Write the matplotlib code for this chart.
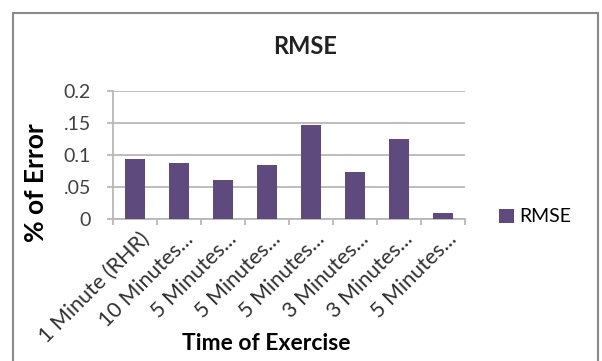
import matplotlib
matplotlib.use("Agg")
import matplotlib.pyplot as plt
import matplotlib.transforms as mtransforms
from matplotlib.patches import Rectangle

# RMSE per exercise interval
categories = ["1 Minute (RHR)", "10 Minutes...", "5 Minutes...", "5 Minutes...",
              "5 Minutes...", "3 Minutes...", "3 Minutes...", "5 Minutes..."]
rmse = [0.094, 0.087, 0.061, 0.084, 0.147, 0.074, 0.125, 0.009]
yticks = [0, 0.05, 0.1, 0.15, 0.2]
yticklabels = ["0", ".05", "0.1", ".15", "0.2"]

BAR = "#5f4a7d"
GRID = "#b8b8b8"
FONT = ["Lato", "DejaVu Sans"]

plt.rcParams["font.family"] = FONT

W, H = 602, 361
fig = plt.figure(figsize=(W / 100, H / 100), dpi=100)
# outer chart border (bottom edge runs off the canvas)
fig.patches.append(Rectangle((12.5 / W, -0.1), 585.5 / W, 1.1 - 13 / H,
                             transform=fig.transFigure, fill=False,
                             edgecolor="#8a8a8a", linewidth=1.5))

ax = fig.add_axes([113 / W, 1 - 219 / H, 352 / W, 128.3 / H])
x = range(len(categories))
ax.bar(x, rmse, width=0.45, color=BAR, zorder=3, label="RMSE")

ax.set_xlim(-0.5, len(categories) - 0.5)
ax.set_ylim(0, 0.2)
ax.set_yticks(yticks)
ax.set_yticklabels(yticklabels, fontsize=14, color="#404040")
ax.grid(axis="y", color=GRID, linewidth=1.3, zorder=0)

ax.set_xticks(list(x))
ax.set_xticklabels(categories, rotation=45, ha="right", va="top",
                   rotation_mode="anchor", fontsize=15.5, color="#303030")
ax.tick_params(axis="x", which="major", length=0, pad=7)
shift = mtransforms.ScaledTranslation(4 / 100, 0, fig.dpi_scale_trans)
for lbl in ax.get_xticklabels():
    lbl.set_transform(lbl.get_transform() + shift)
ax.set_xticks([i - 0.5 for i in range(len(categories) + 1)], minor=True)
ax.tick_params(axis="x", which="minor", length=4.3, color=GRID, width=1.3)
ax.tick_params(axis="y", length=4.3, color=GRID, width=1.3, pad=11.5)

for side in ("top", "right"):
    ax.spines[side].set_visible(False)
for side in ("left", "bottom"):
    ax.spines[side].set_color(GRID)
    ax.spines[side].set_linewidth(1.3)

fig.text(36 / W, 1 - 183 / H, "% of Error", rotation=90, ha="center", va="center",
         fontsize=19, fontweight="bold")
fig.text(266 / W, 1 - 344 / H, "Time of Exercise", ha="center", va="center",
         fontsize=16.5, fontweight="bold")
fig.text(305 / W, 1 - 47 / H, "RMSE", ha="center", va="center",
         fontsize=17, fontweight="bold", color="#222222")

fig.legend(loc="center left", bbox_to_anchor=(499 / W, 1 - 217 / H),
           frameon=False, fontsize=14, handlelength=0.75, handleheight=0.75,
           handletextpad=0.3, borderaxespad=0, borderpad=0)

fig.savefig("out.png", dpi=100)
